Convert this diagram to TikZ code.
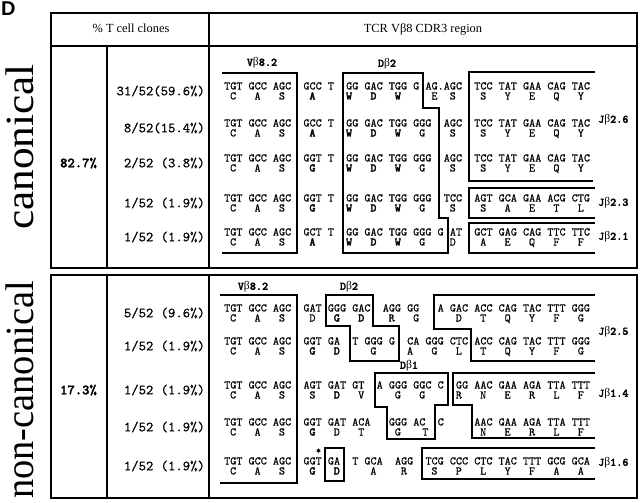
\documentclass[tikz,border=0pt]{standalone}
\usepackage{fontspec}
\setmainfont{Liberation Serif}
\setmonofont{lmmono10-regular.otf}[UprightFeatures={FakeBold=0.5},BoldFont=lmmonolt10-bold.otf,BoldFeatures={FakeBold=2}]
\newfontfamily\sansfnt{Liberation Sans}
\newcommand\bet{{\rmfamily\mdseries β}}
\def\xo{224}
\def\cw{6.1}
\tikzset{
  nt/.style={font=\fontsize{11.6}{12}\ttfamily, inner sep=0pt},
  fr/.style={font=\fontsize{14}{14}\ttfamily, inner sep=0pt},
  lab/.style={font=\fontsize{11.6}{12}\ttfamily\bfseries, inner sep=0pt},
  hd/.style={font=\fontsize{12.4}{13}\rmfamily, inner sep=0pt},
  big/.style={font=\fontsize{40}{40}\rmfamily, inner sep=0pt, rotate=90, anchor=base},
  segbox/.style={line width=1.2pt, line join=miter},
  frame/.style={line width=1.5pt}
}
\newcommand\seqrow[4]{%
  \foreach \ci/\sq [count=\k] in {#2}{\node[nt,anchor=base west] (#4c\k) at ({\xo+\ci*\cw},#1) {\sq};}%
  \foreach \ci/\sq [count=\k] in {#3}{\node[nt,anchor=base] (#4a\k) at ({\xo+(\ci+0.5)*\cw},{#1+10}) {\sq};}%
}
\begin{document}
\begin{tikzpicture}[x=1pt,y=-1pt]
\useasboundingbox (0,0) rectangle (640,503);
% panel letter
\node[inner sep=0pt, anchor=base west, font=\fontsize{20}{20}\sansfnt\bfseries] (panel) at (1,15.5) {D};
% frames
\draw[frame] (51,13) rectangle (637,268);
\draw[frame] (51,46) -- (637,46);
\draw[frame] (209,13) -- (209,268);
\draw[frame] (107,46) -- (107,268);
\draw[frame] (51,275) rectangle (637,498);
\draw[frame] (107,275) -- (107,498);
\draw[frame] (209,275) -- (209,498);
% headers
\node[hd, anchor=base] (h1) at (131,33) {\% T cell clones};
\node[hd, anchor=base] (h2) at (423,33) {TCR V\bet8 CDR3 region};
% side labels
\node[big] (canon) at (33,147) {\scalebox{1.08}[1]{canonical}};
\node[big] (noncanon) at (33,390) {\scalebox{0.96}[1]{non-canonical}};
% percentages
\node[fr, font=\fontsize{14}{14}\ttfamily\bfseries, anchor=base] (p1) at (78.5,167.3) {82.7\%};
\node[fr, font=\fontsize{14}{14}\ttfamily\bfseries, anchor=base] (p2) at (78.5,394.3) {17.3\%};
% fractions canonical
\node[fr, anchor=base east] (f1) at (205,95.3) {31/52(59.6\%)};
\node[fr, anchor=base east] (f2) at (205,132.3) {8/52(15.4\%)};
\node[fr, anchor=base east] (f3) at (205,167.3) {2/52 (3.8\%)};
\node[fr, anchor=base east] (f4) at (205,207.3) {1/52 (1.9\%)};
\node[fr, anchor=base east] (f5) at (205,241.3) {1/52 (1.9\%)};
% fractions non-canonical
\node[fr, anchor=base east] (g1) at (205,317.3) {5/52 (9.6\%)};
\node[fr, anchor=base east] (g2) at (205,350.3) {1/52 (1.9\%)};
\node[fr, anchor=base east] (g3) at (205,394.3) {1/52 (1.9\%)};
\node[fr, anchor=base east] (g4) at (205,431.3) {1/52 (1.9\%)};
\node[fr, anchor=base east] (g5) at (205,470.3) {1/52 (1.9\%)};
% segment labels canonical
\node[lab] (lv1) at (262,63) {V\bet8.2};
\node[lab] (ld1) at (387,64) {D\bet2};
\node[lab, anchor=west] (lj26) at (598,120) {J\bet2.6};
\node[lab, anchor=west] (lj23) at (598,203) {J\bet2.3};
\node[lab, anchor=west] (lj21) at (598,237) {J\bet2.1};
% segment labels non-canonical
\node[lab] (lv2) at (253,287) {V\bet8.2};
\node[lab] (ld2) at (349,287) {D\bet2};
\node[lab] (ld3) at (409,366) {D\bet1};
\node[lab, anchor=west] (lj25) at (598,332) {J\bet2.5};
\node[lab, anchor=west] (lj14) at (598,394) {J\bet1.4};
\node[lab, anchor=west] (lj16) at (598,463) {J\bet1.6};
% canonical boxes
\draw[segbox] (222,73) -- (297,73) -- (297,253) -- (222,253);
\draw[segbox] (343,73) -- (423,73) -- (423,108) -- (439,108) -- (439,218) -- (448,218) -- (448,253) -- (343,253) -- cycle;
\draw[segbox] (595,72) -- (469,72) -- (469,181) -- (593,181);
\draw[segbox] (595,188) -- (469,188) -- (469,218) -- (595,218);
\draw[segbox] (595,223) -- (469,223) -- (469,253) -- (595,253);
% non-canonical boxes
\draw[segbox] (220,295) -- (297,295) -- (297,483) -- (220,483);
\draw[segbox] (326,295) -- (373,295) -- (373,326) -- (399,326) -- (399,361) -- (350,361) -- (350,326) -- (326,326) -- cycle;
\draw[segbox] (595,295) -- (434,295) -- (434,329) -- (471,329) -- (471,361) -- (595,361);
\draw[segbox] (375,373) -- (448,373) -- (448,405) -- (435,405) -- (435,439) -- (387,439) -- (387,407) -- (375,407) -- cycle;
\draw[segbox] (595,373) -- (453,373) -- (453,405) -- (472,405) -- (472,438) -- (595,438);
\draw[segbox] (325,448) rectangle (344,481);
\draw[segbox] (595,448) -- (422,448) -- (422,479) -- (595,479);
% canonical rows
\seqrow{89.5}{0/TGT GCC AGC,13/GCC T,20/GG GAC TGG G,33/AG.AGC,41/TCC TAT GAA CAG TAC}
  {1/C,5/A,9/S,14/\textbf{A},20/\textbf{W},24/\textbf{D},28/\textbf{W},34/E,37/S,42/S,46/Y,50/E,54/Q,58/Y}{ra}
\seqrow{126.5}{0/TGT GCC AGC,13/GCC T,20/GG GAC TGG GGG,36/AGC,41/TCC TAT GAA CAG TAC}
  {1/C,5/A,9/S,14/\textbf{A},20/\textbf{W},24/\textbf{D},28/\textbf{W},32/G,37/S,42/S,46/Y,50/E,54/Q,58/Y}{rb}
\seqrow{161.5}{0/TGT GCC AGC,13/GGT T,20/GG GAC TGG GGG,36/AGC,41/TCC TAT GAA CAG TAC}
  {1/C,5/A,9/S,14/\textbf{G},20/\textbf{W},24/\textbf{D},28/\textbf{W},32/G,37/S,42/S,46/Y,50/E,54/Q,58/Y}{rc}
\seqrow{201.5}{0/TGT GCC AGC,13/GGT T,20/GG GAC TGG GGG,36/TCC,41/AGT GCA GAA ACG CTG}
  {1/C,5/A,9/S,14/\textbf{G},20/\textbf{W},24/\textbf{D},28/\textbf{W},32/G,37/S,42/S,46/A,50/E,54/T,58/L}{rd}
\seqrow{235.5}{0/TGT GCC AGC,13/GCT T,20/GG GAC TGG GGG G,37/AT,41/GCT GAG CAG TTC TTC}
  {1/C,5/A,9/S,14/\textbf{A},20/\textbf{W},24/\textbf{D},28/\textbf{W},32/G,37/D,42/A,46/E,50/Q,54/F,58/F}{re}
% non-canonical rows
\seqrow{311.5}{0/TGT GCC AGC,13/GAT,17/GGG GAC,26/AGG GG,35/A GAC ACC CAG TAC TTT GGG}
  {1/C,5/A,9/S,14/D,18/\textbf{G},22/\textbf{D},27/R,31/G,38/D,42/T,46/Q,50/Y,54/F,58/G}{na}
\seqrow{344.5}{0/TGT GCC AGC,13/GGT GA,21/T GGG,27/G,30/CA GGG CTC,41/ACC CAG TAC TTT GGG}
  {1/C,5/A,9/S,14/\textbf{G},18/\textbf{D},24/G,30/A,34/G,38/L,42/T,46/Q,50/Y,54/F,58/G}{nb}
\seqrow{388.5}{0/TGT GCC AGC,13/AGT GAT GT,25/A GGG GGC C,38/GG AAC GAA AGA TTA TTT}
  {1/C,5/A,9/S,14/S,18/\textbf{D},22/V,28/G,32/G,38/R,42/N,46/E,50/R,54/L,58/F}{nc}
\seqrow{425.5}{0/TGT GCC AGC,13/GGT GAT ACA,27/GGG AC,35/C,41/AAC GAA AGA TTA TTT}
  {1/C,5/A,9/S,14/\textbf{G},18/D,22/T,28/G,32.5/T,42/N,46/E,50/R,54/L,58/F}{nd}
\seqrow{464.5}{0/TGT GCC AGC,13/GGT,17/GA,21/T GCA,28/AGG,33/TCG CCC CTC TAC TTT GCG GCA}
  {1/C,5/A,9/S,14/\textbf{G},18/\textbf{D},24/A,29/R,34/S,38/P,42/L,46/Y,50/F,54/A,58/A}{ne}
\node[nt, font=\fontsize{9}{9}\ttfamily\bfseries] (star) at (318.5,451) {*};
\end{tikzpicture}
\end{document}
